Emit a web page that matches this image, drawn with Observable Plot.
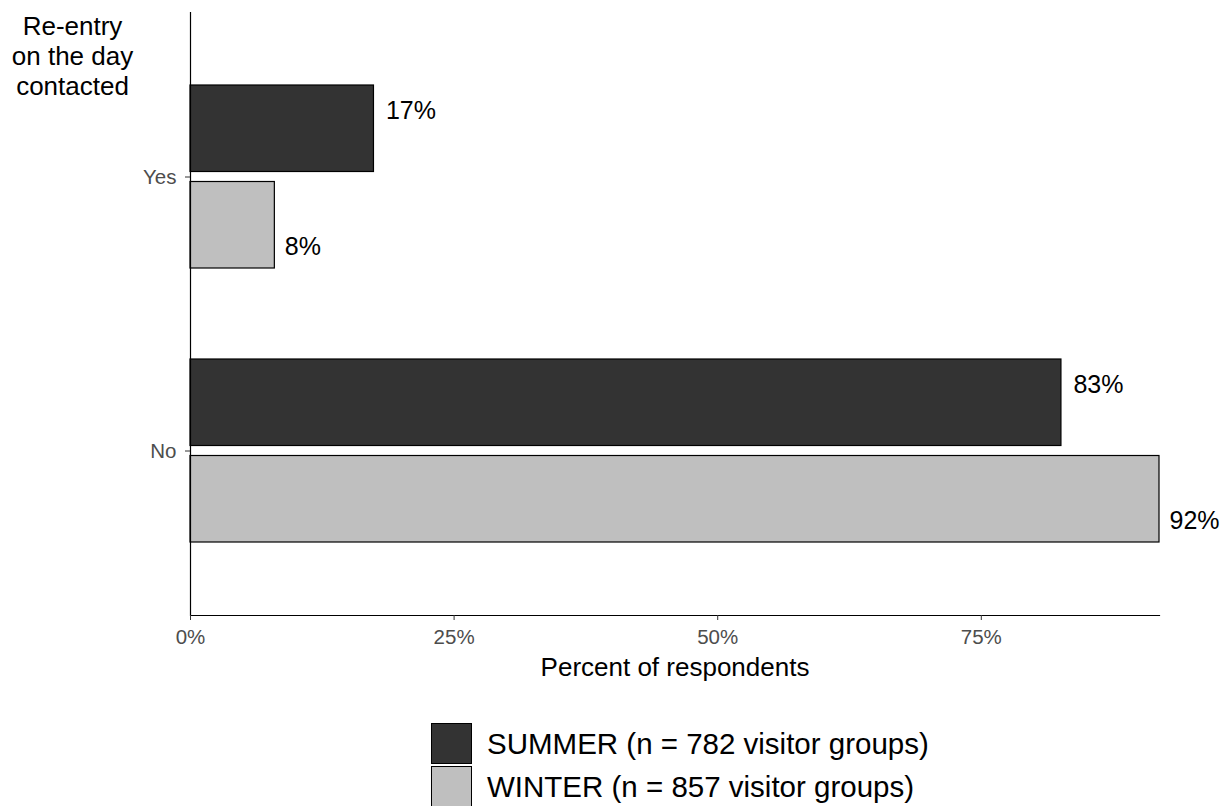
<!DOCTYPE html>
<html>
<head>
<meta charset="utf-8">
<script src="https://cdn.jsdelivr.net/npm/d3@7"></script>
<script src="https://cdn.jsdelivr.net/npm/@observablehq/plot@0.6"></script>
<style>
  html, body { margin: 0; padding: 0; background: #fff; }
  body { font-family: "Liberation Sans", Arial, sans-serif; width: 1232px; }
  #chart svg { display: block; }
  #legend { padding-left: 431px; margin-top: 22px; }
  .row { display: flex; align-items: center; height: 43px; }
  .sw { width: 41px; height: 41px; box-sizing: border-box; border: 1.5px solid #000; }
  .lab { margin-left: 15px; font-size: 29.5px; color: #000; white-space: nowrap; }
</style>
</head>
<body>
<div id="chart"></div>
<div id="legend"></div>
<script>
const categories = ["Yes", "No"];
const seasons = ["SUMMER", "WINTER"];
const summerPct = [17.4, 82.6];
const winterPct = [8.0, 91.9];
const seasonLabels = ["SUMMER (n = 782 visitor groups)", "WINTER (n = 857 visitor groups)"];
const xTicks = [0, 25, 50, 75];
const yTitle = "Re-entry\non the day\ncontacted";
const xTitle = "Percent of respondents";
const seasonColors = ["#333333", "#bfbfbf"];

const rows = categories.flatMap((c, i) => [
  {category: c, season: seasons[0], pct: summerPct[i]},
  {category: c, season: seasons[1], pct: winterPct[i]}
]);
const summerRows = rows.filter(d => d.season === seasons[0]);
const winterRows = rows.filter(d => d.season === seasons[1]);
const fmt = d => Math.round(d.pct) + "%";
const font = "Liberation Sans, Arial, sans-serif";

const chart = Plot.plot({
  width: 1232,
  height: 700,
  marginLeft: 190,
  marginRight: 73,
  marginTop: 12,
  marginBottom: 85,
  style: {fontFamily: font, fontSize: "20px", background: "#fff", color: "#000"},
  x: {domain: [0, d3.max(rows, d => d.pct)]},
  y: {domain: categories, paddingInner: 0.332, paddingOuter: 0.266},
  color: {domain: seasons, range: seasonColors},
  marks: [
    Plot.barX(summerRows, {x: "pct", y: "category", fill: "season", stroke: "#000", strokeWidth: 1.2, insetBottom: 96.5}),
    Plot.barX(winterRows, {x: "pct", y: "category", fill: "season", stroke: "#000", strokeWidth: 1.2, insetTop: 96.5}),
    Plot.text(summerRows, {x: "pct", y: "category", text: fmt, textAnchor: "start", dx: 12, dy: -66, fontSize: 25, fill: "#000"}),
    Plot.text(winterRows, {x: "pct", y: "category", text: fmt, textAnchor: "start", dx: 10, dy: 70, fontSize: 25, fill: "#000"}),
    Plot.ruleX([0], {stroke: "#000", strokeWidth: 1.2}),
    Plot.frame({anchor: "bottom", stroke: "#000", strokeWidth: 1.2}),
    Plot.axisX({ticks: xTicks, tickFormat: d => d + "%", tickSize: 5, tickPadding: 9, fontSize: 20.5, color: "#4d4d4d", stroke: "#333", label: null}),
    Plot.axisY({tickSize: 5, tickPadding: 9, fontSize: 20.5, color: "#4d4d4d", stroke: "#333", label: null}),
    Plot.text([yTitle], {frameAnchor: "top-left", dx: -118, dy: 1.5, lineAnchor: "top", textAnchor: "middle", lineHeight: 30 / 26, fontSize: 26, fill: "#000"}),
    Plot.text([xTitle], {frameAnchor: "bottom", dy: 42.5, lineAnchor: "top", textAnchor: "middle", fontSize: 26, fill: "#000"})
  ]
});
document.getElementById("chart").appendChild(chart);

const legend = d3.select("#legend");
seasons.forEach((s, i) => {
  const row = legend.append("div").attr("class", "row");
  row.append("div").attr("class", "sw").style("background", seasonColors[i]);
  row.append("div").attr("class", "lab").text(seasonLabels[i]);
});
</script>
</body>
</html>
